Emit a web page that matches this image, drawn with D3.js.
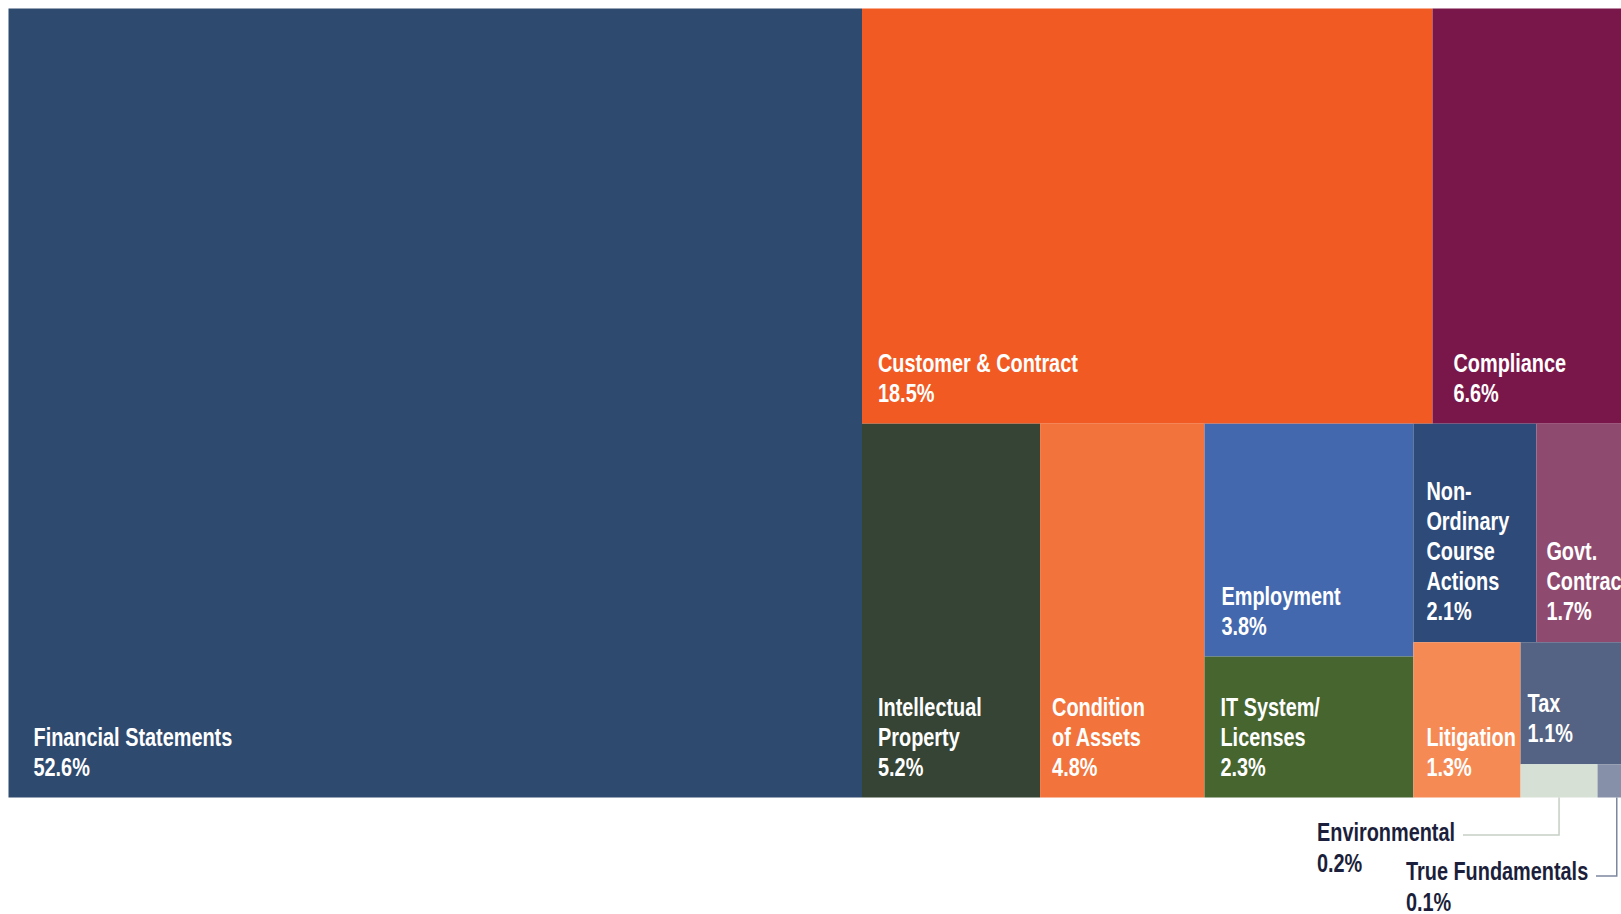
<!DOCTYPE html>
<html><head><meta charset="utf-8">
<script src="https://cdn.jsdelivr.net/npm/d3@7"></script>
<style>html,body{margin:0;padding:0;background:#fff;overflow:hidden}</style>
</head><body>
<svg id="chart" width="1621" height="914"></svg>
<script>
// ---- data ----
const categories = ["Financial Statements","Customer & Contract","Compliance","Intellectual Property","Condition of Assets","Employment","IT System/ Licenses","Non-Ordinary Course Actions","Govt. Contract","Litigation","Tax","Environmental","True Fundamentals"];
const shares = [52.6,18.5,6.6,5.2,4.8,3.8,2.3,2.1,1.7,1.3,1.1,0.2,0.1];
const labelLines = [["Financial Statements"],["Customer & Contract"],["Compliance"],["Intellectual","Property"],["Condition","of Assets"],["Employment"],["IT System/","Licenses"],["Non-","Ordinary","Course","Actions"],["Govt.","Contract"],["Litigation"],["Tax"],["Environmental"],["True Fundamentals"]];
const pctLabels = ["52.6%","18.5%","6.6%","5.2%","4.8%","3.8%","2.3%","2.1%","1.7%","1.3%","1.1%","0.2%","0.1%"];
// nesting of tiles (alternating slice / dice by depth)
const layoutTree = [0, [[1,2],[3,4,[5,6],[[7,8],[9,[10,[11,12]]]]]]];

// ---- styles ----
const colors = ["#2f4a6f","#f15a22","#7a174a","#354435","#f2733b","#4468ad","#46652f","#2e4a78","#8f4a6f","#f58a55","#546283","#d6e0d4","#8690a8"];
const padLeft = [25,16,21,16,12,17,16,13,10,13,7,0,0];
const outside = {11:{x:1317,y:841,lx:1463,ly:835,stroke:"#c5d0c3"},12:{x:1406,y:880,lx:1596,ly:876,stroke:"#7d87a0"}};
const X0 = 8.5, Y0 = 8.5, X1 = 1636, Y1 = 797.5;
const FONT = "'Liberation Sans',Arial,sans-serif";
const FS = 26, SX = 0.765, LH = 30, BOTTOM = 22;

function build(n){ return Array.isArray(n) ? {children:n.map(build)} : {i:n, value:shares[n]}; }
const root = d3.hierarchy(build(layoutTree)).sum(d => d.children ? 0 : d.value);
d3.treemap().tile(d3.treemapSliceDice).size([X1-X0, Y1-Y0]).round(false)(root);

const svg = d3.select("#chart");
const g = svg.append("g").attr("transform",`translate(${X0},${Y0})`);
const leaves = root.leaves();

g.selectAll("rect").data(leaves).join("rect")
  .attr("x",d=>d.x0).attr("y",d=>d.y0)
  .attr("width",d=>d.x1-d.x0).attr("height",d=>d.y1-d.y0)
  .attr("fill",d=>colors[d.data.i]);

function label(parent, x, yLast, lines, fill, lh){
  const n = lines.length;
  const t = parent.append("text").attr("fill",fill).attr("font-family",FONT)
    .attr("font-size",FS).attr("font-weight",700)
    .attr("transform",`translate(${x},${yLast}) scale(${SX},1)`);
  lines.forEach((s,k)=>{
    t.append("tspan").attr("x",0).attr("y",-(n-1-k)*lh).text(s);
  });
}

// inside labels
leaves.filter(d=>!outside[d.data.i]).forEach(d=>{
  const i=d.data.i;
  label(g, d.x0+padLeft[i], d.y1-BOTTOM, labelLines[i].concat([pctLabels[i]]), "#fff", LH);
});

// outside labels with leaders
leaves.filter(d=>outside[d.data.i]).forEach(d=>{
  const i=d.data.i, o=outside[i];
  const cx = X0 + (d.x0+d.x1)/2;
  svg.append("path").attr("fill","none").attr("stroke",o.stroke).attr("stroke-width",1.5)
    .attr("d",`M${o.lx},${o.ly}H${cx}V${Y0+d.y1}`);
  label(svg, o.x, o.y+LH+1, [labelLines[i][0], pctLabels[i]], "#1c1f3b", LH+1);
});
</script>
</body></html>
